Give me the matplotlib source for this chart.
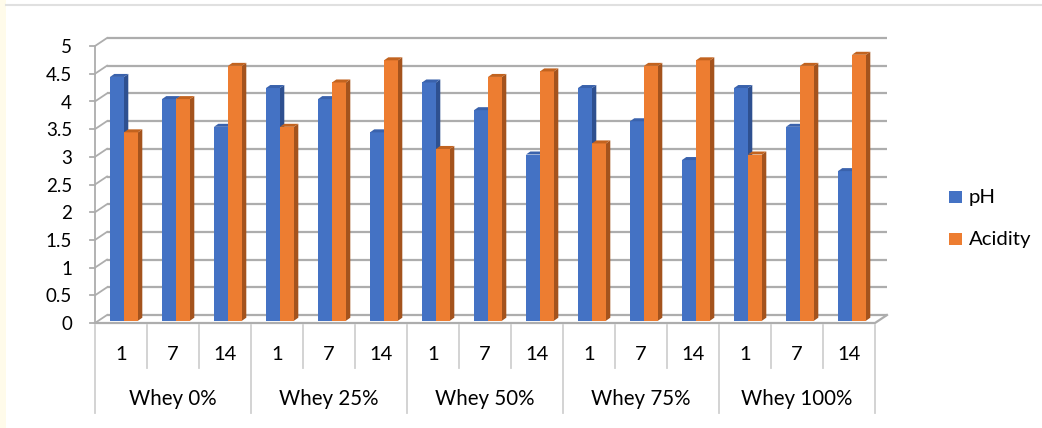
import matplotlib
matplotlib.use("Agg")
import matplotlib.pyplot as plt
from matplotlib.patches import Polygon, Rectangle
from matplotlib.lines import Line2D

# ---- data -------------------------------------------------------------
groups = ["Whey 0%", "Whey 25%", "Whey 50%", "Whey 75%", "Whey 100%"]
days = ["1", "7", "14"]
series_names = ["pH", "Acidity"]
ph = [4.4, 4.0, 3.5, 4.2, 4.0, 3.4, 4.3, 3.8, 3.0, 4.2, 3.6, 2.9, 4.2, 3.5, 2.7]
acidity = [3.4, 4.0, 4.6, 3.5, 4.3, 4.7, 3.1, 4.4, 4.5, 3.2, 4.6, 4.7, 3.0, 4.6, 4.8]
y_ticks = [0, 0.5, 1, 1.5, 2, 2.5, 3, 3.5, 4, 4.5, 5]
y_tick_labels = ["0", "0.5", "1", "1.5", "2", "2.5", "3", "3.5", "4", "4.5", "5"]

# ---- styling ----------------------------------------------------------
FONT = ["Lato", "DejaVu Sans"]
plt.rcParams["font.family"] = FONT
face_cols = ["#4472C4", "#ED7D31"]
side_cols = ["#2E5090", "#A4531D"]
top_cols = ["#3A62AC", "#C2631F"]
grid_col = "#ADADAD"
sep_col = "#D0D0D0"

W, H, DPI = 1042, 428, 100
fig = plt.figure(figsize=(W / DPI, H / DPI), dpi=DPI)
ax = fig.add_axes([0, 0, 1, 1])

# pixel geometry of the plot box -> data units
x0_px, cat_px = 95.0, 52.0          # front-left corner, width of one category
y0_px, unit_px = 323.0, 55.4        # front floor line, pixels per value unit
ax.set_xlim((0 - x0_px) / cat_px, (W - x0_px) / cat_px)
ax.set_ylim((y0_px - H) / unit_px, y0_px / unit_px)
ax.axis("off")

n_cat = len(ph)
ymax = y_ticks[-1]
# depth of the box (front -> back wall)
DX, DY = 12 / cat_px, 8 / unit_px
# bars: front plane offset, bar width, bar depth
bx_off, by_off = 15 / cat_px, 2.3 / unit_px
bw = 14 / cat_px
bdx, bdy = 4.3 / cat_px, 3 / unit_px

# ---- walls and gridlines ----------------------------------------------
for v, lab in zip(y_ticks, y_tick_labels):
    # back wall gridline
    ax.plot([DX, n_cat + DX], [v + DY, v + DY], color=grid_col, lw=1.6,
            solid_capstyle="butt", zorder=1)
    # left wall gridline
    ax.plot([0, DX], [v, v + DY], color=grid_col, lw=1.3, zorder=1)
    # tick mark
    ax.plot([-5 / cat_px, 0], [v, v], color=grid_col, lw=1.3, zorder=1)
    ax.text(-23 / cat_px, v - 0.03, lab, ha="right", va="center",
            fontsize=13.5, color="#000000")

# left wall front edge
ax.plot([0, 0], [0, ymax], color=grid_col, lw=1.3, zorder=1)
# floor front edge and right slant
ax.plot([0, n_cat, n_cat + DX], [0, 0, DY], color=grid_col, lw=1.6, zorder=1)

# ---- 3D columns ---------------------------------------------------------
for s, vals in enumerate([ph, acidity]):
    for i, v in enumerate(vals):
        xl = i + bx_off + s * bw
        xr = xl + bw
        base = by_off
        top = base + v
        z = 3 + 2 * i + s
        ax.bar(xl, v, width=bw, bottom=base, align="edge",
               color=face_cols[s], edgecolor="none", zorder=z)
        ax.add_patch(Polygon([(xr, base), (xr, top), (xr + bdx, top + bdy),
                              (xr + bdx, base + bdy)], closed=True,
                             facecolor=side_cols[s], edgecolor="none", zorder=z))
        ax.add_patch(Polygon([(xl, top), (xr, top), (xr + bdx, top + bdy),
                              (xl + bdx, top + bdy)], closed=True,
                             facecolor=top_cols[s], edgecolor="none", zorder=z))

# ---- category axis (two levels) ----------------------------------------
lab1_y = (y0_px - 354) / unit_px
lab2_y = (y0_px - 399) / unit_px
sep_short = (y0_px - 368) / unit_px
sep_long = (y0_px - 413) / unit_px
for k in range(n_cat + 1):
    yb = sep_long if k % len(days) == 0 else sep_short
    ax.plot([k, k], [-2 / unit_px, yb], color=sep_col, lw=1.3, zorder=1)
for i in range(n_cat):
    ax.text(i + 0.5, lab1_y, days[i % len(days)], ha="center", va="center",
            fontsize=14.5, color="#000000")
for g, name in enumerate(groups):
    ax.text(g * len(days) + len(days) / 2, lab2_y, name, ha="center",
            va="center", fontsize=14.8, color="#000000")

# ---- legend -------------------------------------------------------------
leg_x = (949 - x0_px) / cat_px
sq_w, sq_h = 13 / cat_px, 12 / unit_px
for s, (name, cy_px) in enumerate(zip(series_names, [197, 239])):
    cy = (y0_px - cy_px) / unit_px
    ax.add_patch(Rectangle((leg_x, cy - sq_h / 2), sq_w, sq_h,
                           facecolor=face_cols[s], edgecolor="none"))
    ax.text((969 - x0_px) / cat_px, cy, name, ha="left", va="center",
            fontsize=14.7, color="#000000")

# ---- chart frame --------------------------------------------------------
fig.patches.append(Rectangle((0, 0), 6 / W, 1, transform=fig.transFigure,
                             facecolor="#FFFBEA", edgecolor="none"))
fig.lines.append(Line2D([6 / W, 1041 / W], [1 - 5 / H, 1 - 5 / H],
                        transform=fig.transFigure, color="#E0E0E0", lw=1.5))

fig.savefig("out.png", dpi=DPI)
